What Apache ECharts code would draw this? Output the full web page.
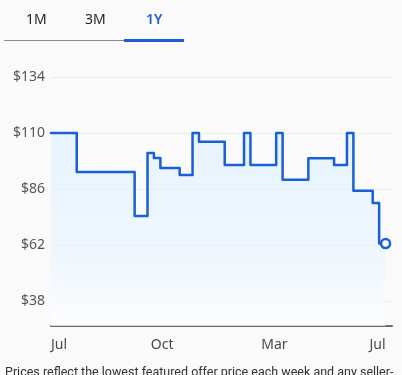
<!DOCTYPE html>
<html>
<head>
<meta charset="utf-8">
<script src="https://cdn.jsdelivr.net/npm/echarts@6/dist/echarts.min.js"></script>
<style>
html,body{margin:0;padding:0;background:#fafafa;}
#chart{width:402px;height:375px;}
</style>
</head>
<body>
<div id="chart"></div>
<script>
// Weekly lowest featured offer price (USD), first week starting 2024-07-01
const prices = [
  110, 110, 110, 110,
  93.3, 93.3, 93.3, 93.3, 93.3, 93.3, 93.3, 93.3, 93.3,
  74.4, 74.4,
  101.4, 99.3,
  95, 95, 95,
  92, 92,
  110,
  106.2, 106.2, 106.2, 106.2,
  96.3, 96.3, 96.3,
  110,
  96.3, 96.3, 96.3, 96.3,
  110,
  90, 90, 90, 90,
  99.2, 99.2, 99.2, 99.2,
  96.3, 96.3,
  110,
  85.3, 85.3, 85.3,
  80,
  62.6, 62.6
];
const firstWeek = '2024-07-01';
const axisEnd = '2025-07-07';
const xTickDates = ['2024-07-01', '2024-10-30', '2025-03-01', '2025-06-30'];
const xTickLabels = ['Jul', 'Oct', 'Mar', 'Jul'];
const yTicks = [38, 62, 86, 110, 134];
const tabs = ['1M', '3M', '1Y'];
const footnote = 'Prices reflect the lowest featured offer price each week and any seller-';

const DAY = 86400000;
const toTime = s => { const p = s.split('-').map(Number); return Date.UTC(p[0], p[1] - 1, p[2]); };
const start = toTime(firstWeek);
const toDay = s => (toTime(s) - start) / DAY;          // days since first week
const weekDays = prices.map((_, i) => i * 7);            // x position of each weekly price
const xTickDays = xTickDates.map(toDay);

const BLUE = '#1a5fd4';
const data = prices.map((p, i) => {
  if (i === prices.length - 1) {
    return { value: [weekDays[i], p], symbol: 'circle', symbolSize: 9,
      itemStyle: { color: '#fff', borderColor: BLUE, borderWidth: 2.5 } };
  }
  return { value: [weekDays[i], p], symbol: 'none' };
});

const chart = echarts.init(document.getElementById('chart'), null, { renderer: 'canvas' });
const FONT = '"Noto Sans", "Open Sans", sans-serif';
chart.setOption({
  backgroundColor: '#fafafa',
  animation: false,
  grid: { left: 51, right: 10, top: 77, bottom: 49, containLabel: false },
  xAxis: {
    type: 'value',
    min: 0,
    max: toDay(axisEnd),
    axisLine: { show: true, lineStyle: { color: '#6e6e6e', width: 2 } },
    axisTick: { show: false, customValues: xTickDays },
    splitLine: { show: false },
    axisLabel: {
      customValues: xTickDays,
      margin: 12,
      fontSize: 14,
      fontFamily: FONT,
      color: '#4a4a4a',
      alignMinLabel: 'left',
      alignMaxLabel: 'right',
      formatter: function (v) {
        for (let i = 0; i < xTickDays.length; i++) {
          if (Math.abs(xTickDays[i] - v) < 0.5) return xTickLabels[i];
        }
        return '';
      }
    }
  },
  yAxis: {
    type: 'value',
    min: 27.29,
    max: 134,
    axisLine: { show: false },
    axisTick: { show: false, customValues: yTicks },
    splitLine: { show: true, lineStyle: { color: '#ececec', width: 1 } },
    axisLabel: {
      customValues: yTicks,
      margin: 6,
      fontSize: 14,
      fontFamily: FONT,
      color: '#555',
      formatter: v => '$' + v
    }
  },
  series: [{
    type: 'line',
    step: 'end',
    data: data,
    showSymbol: true,
    symbol: 'none',
    lineStyle: { color: BLUE, width: 2.5, join: 'round', cap: 'round' },
    itemStyle: { color: BLUE },
    areaStyle: {
      color: new echarts.graphic.LinearGradient(0, 0, 0, 1, [
        { offset: 0, color: '#e0f0ff' },
        { offset: 0.7, color: '#ecf6ff' },
        { offset: 1, color: '#ffffff' }
      ])
    },
    z: 3
  }],
  graphic: [
    { type: 'text', left: 26, top: 13, style: { text: tabs[0], font: '400 14px ' + FONT, fill: '#1f1f1f' } },
    { type: 'text', left: 85, top: 13, style: { text: tabs[1], font: '400 14px ' + FONT, fill: '#1f1f1f' } },
    { type: 'text', left: 146, top: 13, style: { text: tabs[2], font: '600 14px ' + FONT, fill: BLUE } },
    { type: 'rect', shape: { x: 4, y: 40, width: 120, height: 1 }, style: { fill: '#8a8a8a' } },
    { type: 'rect', shape: { x: 124, y: 39, width: 60, height: 3 }, style: { fill: BLUE } },
    { type: 'text', left: 5, top: 366, style: { text: footnote, font: '12.5px Roboto, "Noto Sans", sans-serif', fill: '#333' } }
  ]
});
</script>
</body>
</html>
